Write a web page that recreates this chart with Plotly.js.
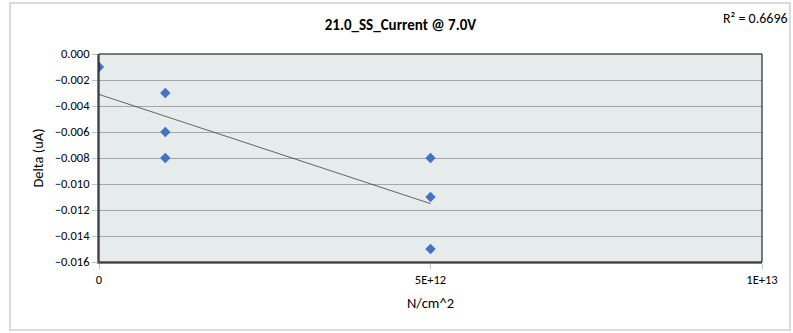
<!DOCTYPE html>
<html><head><meta charset="utf-8">
<script src="https://cdn.plot.ly/plotly-3.0.1.min.js"></script>
<style>html,body{margin:0;padding:0;background:#fff}#chart{width:793px;height:333px}</style>
</head><body><div id="chart"></div>
<script>
const xValues = [0, 1e12, 1e12, 1e12, 5e12, 5e12, 5e12];
const yValues = [-0.001, -0.003, -0.006, -0.008, -0.008, -0.011, -0.015];
const xTickVals = [0, 5e12, 1e13];
const xTickText = ['0', '5E+12', '1E+13'];
const yTickVals = [0, -0.002, -0.004, -0.006, -0.008, -0.010, -0.012, -0.014, -0.016];
const titleText = '21.0_SS_Current @ 7.0V';
const r2Text = 'R² = 0.6696';

// linear regression trendline
const n = xValues.length;
const mx = xValues.reduce((a,b)=>a+b,0)/n;
const my = yValues.reduce((a,b)=>a+b,0)/n;
let sxy=0, sxx=0;
for (let i=0;i<n;i++){ sxy += (xValues[i]-mx)*(yValues[i]-my); sxx += (xValues[i]-mx)**2; }
const slope = sxy/sxx, icpt = my - slope*mx;
const xMin = Math.min(...xValues), xMax = Math.max(...xValues);
const trendX = [xMin, xMax];
const trendY = trendX.map(x => icpt + slope*x);

const font = 'Carlito, "Liberation Sans", Arial, sans-serif';
const data = [
  {x: trendX, y: trendY, mode:'lines', line:{color:'#404040', width:0.8}, hoverinfo:'skip'},
  {x: xValues, y: yValues, mode:'markers', marker:{symbol:'diamond', size:8, color:'#4472c4'}}
];
const layout = {
  width:793, height:333, showlegend:false,
  paper_bgcolor:'#fff', plot_bgcolor:'#e6ecec',
  margin:{l:99, r:31, t:54, b:71},
  font:{family:font, size:12.5, color:'#000'},
  title:{text:'<b>'+titleText+'</b>', x:0.505, xanchor:'center', y:0.925, yanchor:'middle', font:{size:15, family:font}},
  xaxis:{range:[0,1e13], tickvals:xTickVals, ticktext:xTickText, showgrid:false, zeroline:false,
         showline:true, linecolor:'#7f7f7f', linewidth:2, ticks:'outside', ticklen:5, tickcolor:'#bfbfbf',
         mirror:false, title:{text:'N/cm^2', font:{size:14.5}, standoff:12}},
  yaxis:{range:[-0.016,0], tickvals:yTickVals, tickformat:'.3f', showgrid:true, gridcolor:'#a6a6a6', gridwidth:1,
         zeroline:false, showline:true, linecolor:'#7f7f7f', linewidth:2, ticks:'outside', ticklen:5, tickcolor:'#bfbfbf',
         title:{text:'Delta (uA)', font:{size:14.5}, standoff:8}},
  shapes:[
    {type:'rect', xref:'paper', yref:'paper', x0:0, x1:1, y0:0, y1:1, line:{color:'#000', width:1}, fillcolor:'rgba(0,0,0,0)', layer:'above'},
    {type:'rect', xref:'paper', yref:'paper', x0:-89/663, x1:(790-99)/663, y0:-(330-262)/208, y1:(262-3)/208, line:{color:'#d0d0d0', width:1.5}, fillcolor:'rgba(0,0,0,0)'}
  ],
  annotations:[
    {text:r2Text, xref:'paper', yref:'paper', x:(790-99)/663, xanchor:'right', y:(262-19)/208, yanchor:'middle', showarrow:false, font:{size:14}}
  ]
};
Plotly.newPlot('chart', data, layout, {displayModeBar:false, staticPlot:true});
</script></body></html>
